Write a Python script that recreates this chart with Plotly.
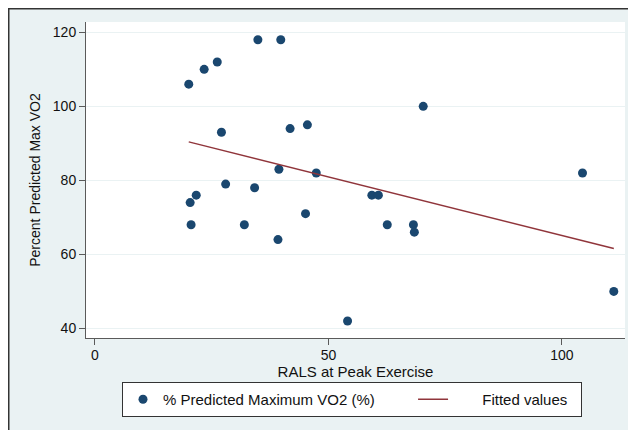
import plotly.graph_objects as go

# RALS at Peak Exercise (x) and % Predicted Maximum VO2 (y)
rals = [20.1, 23.4, 26.2, 34.9, 39.8, 70.3, 27.1, 41.8, 45.5, 39.4, 47.4, 104.4,
        28.0, 34.2, 21.7, 20.4, 59.3, 60.7, 45.1, 20.6, 32.0, 62.6, 68.2, 68.4,
        39.2, 54.1, 111.1]
vo2 = [106, 110, 112, 118, 118, 100, 93, 94, 95, 83, 82, 82,
       79, 78, 76, 74, 76, 76, 71, 68, 68, 68, 68, 66,
       64, 42, 50]

# Fitted values (linear fit)
fit_x = [20.1, 111.1]
fit_y = [90.4, 61.6]

x_ticks = [0, 50, 100]
y_ticks = [40, 60, 80, 100, 120]

FONT = "Liberation Sans, Arial, Helvetica, sans-serif"
NAVY = "#1a476f"
MAROON = "#90353b"
AXIS = "#5a5a5a"
BG = "#eaf2f3"
NB = "\u00a0"

fig = go.Figure()
fig.add_trace(go.Scatter(
    x=rals, y=vo2, mode="markers",
    name="% Predicted Maximum VO2 (%)" + NB * 8,
    marker=dict(color=NAVY, size=9, line=dict(width=0)),
))
fig.add_trace(go.Scatter(
    x=fit_x, y=fit_y, mode="lines",
    name=NB * 7 + "Fitted values" + NB * 2,
    line=dict(color=MAROON, width=1.5),
))

# page body adds an 8px margin, so the figure sits at (8, 8) in the window
W, H = 628, 422
ML, MR, MT, MB = 78, 11, 14, 92
pw, ph = W - ML - MR, H - MT - MB
x_left = -ML / pw
y_top = 1 + MT / ph

fig.update_layout(
    width=W, height=H,
    margin=dict(l=ML, r=MR, t=MT, b=MB, autoexpand=False),
    paper_bgcolor=BG,
    plot_bgcolor="white",
    font=dict(family=FONT, size=14, color="#111111"),
    showlegend=True,
    legend=dict(
        orientation="h",
        x=(114 - ML) / pw, xanchor="left",
        y=(330 - 374) / ph, yanchor="top",
        bgcolor="white",
        bordercolor="#333333", borderwidth=1,
        font=dict(size=15, family=FONT, color="#111111"),
    ),
    shapes=[
        dict(type="line", xref="paper", yref="paper",
             x0=x_left, x1=1.3, y0=y_top - 0.5 / ph, y1=y_top - 0.5 / ph,
             line=dict(color="#333333", width=2), layer="above"),
        dict(type="line", xref="paper", yref="paper",
             x0=x_left + 0.5 / pw, x1=x_left + 0.5 / pw, y0=-0.5, y1=y_top,
             line=dict(color="#333333", width=2), layer="above"),
    ],
)

fig.update_xaxes(
    range=[-1.9, 113.5],
    tickvals=x_ticks, ticktext=[str(v) for v in x_ticks],
    showgrid=False, zeroline=False,
    showline=True, linecolor=AXIS, linewidth=1,
    ticks="outside", ticklen=6, tickcolor=AXIS, tickwidth=1,
    ticklabelstandoff=-2,
    tickfont=dict(size=14, family=FONT, color="#111111"),
    title=dict(text="RALS at Peak Exercise", font=dict(size=15, family=FONT, color="#111111"),
               standoff=0),
    automargin=False,
)
fig.update_yaxes(
    range=[37.4, 122.8],
    tickvals=y_ticks, ticktext=[str(v) for v in y_ticks],
    showgrid=True, gridcolor=BG, gridwidth=1,
    zeroline=False,
    showline=True, linecolor=AXIS, linewidth=1,
    ticks="outside", ticklen=6, tickcolor=AXIS, tickwidth=1,
    tickfont=dict(size=14, family=FONT, color="#111111"),
    title=dict(text="Percent Predicted Max VO2", font=dict(size=14, family=FONT, color="#111111"),
               standoff=8),
    automargin=False,
)

fig.write_html("out.html")
